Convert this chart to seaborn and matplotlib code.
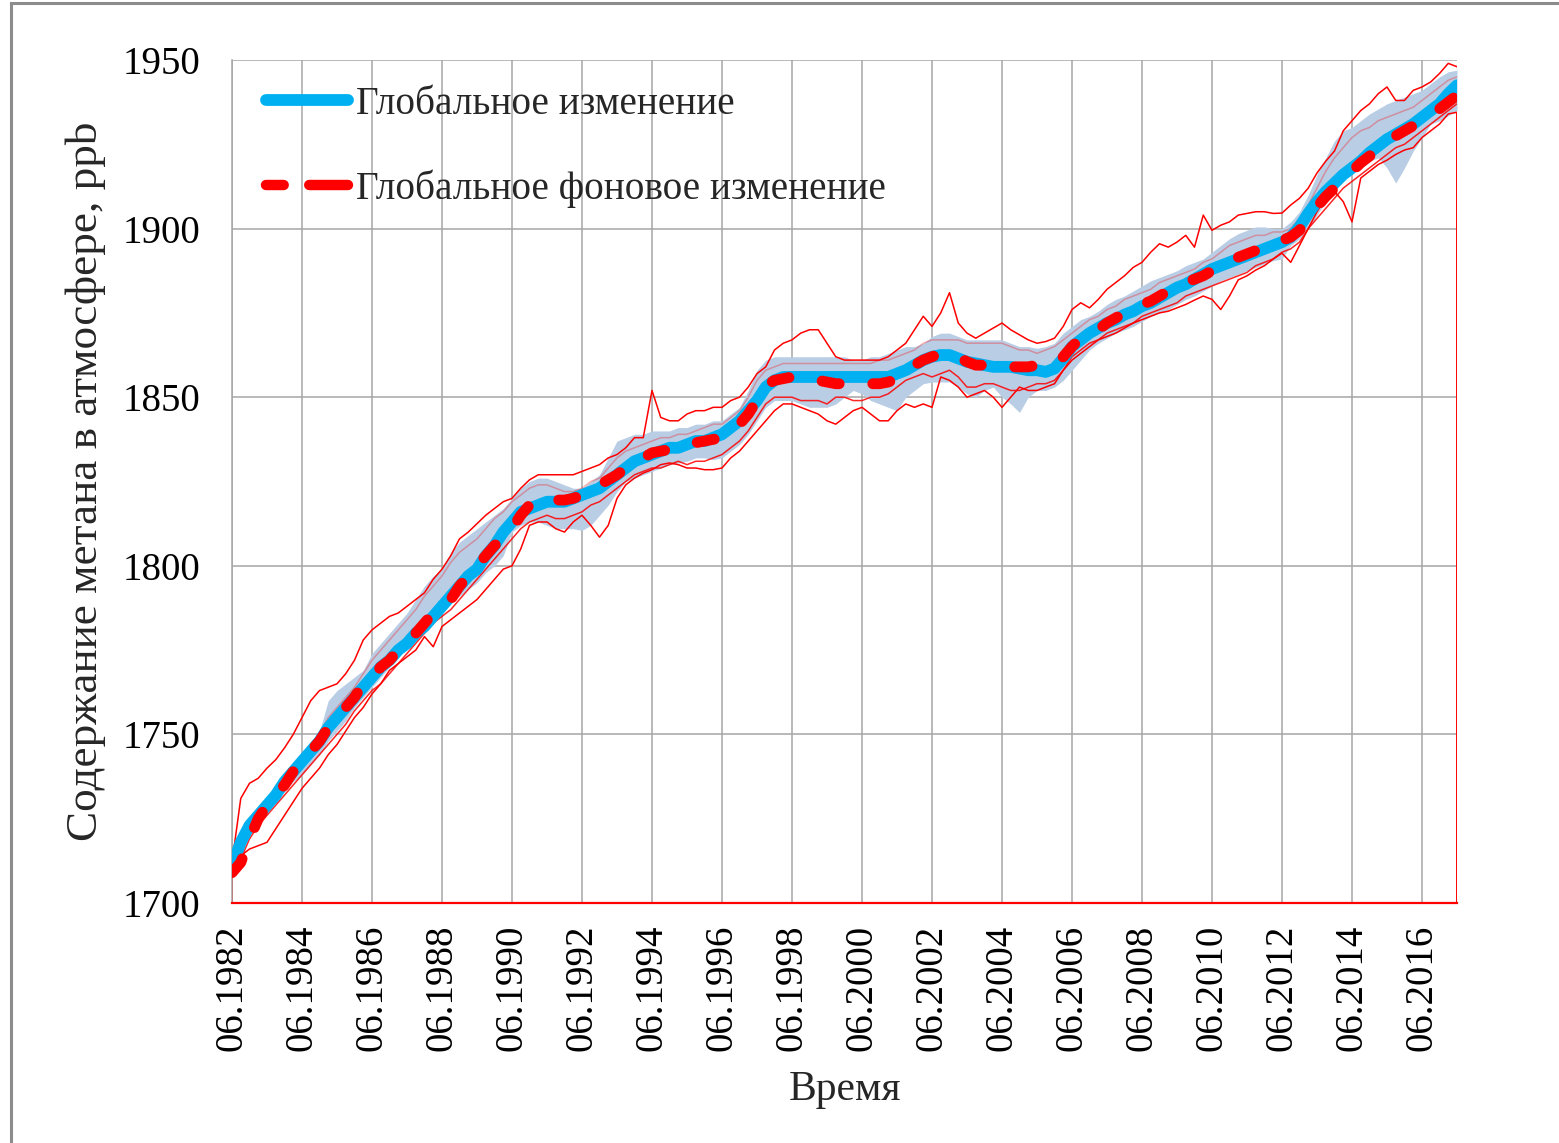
import numpy as np
import matplotlib
matplotlib.use("Agg")
import matplotlib.pyplot as plt
import seaborn as sns
from matplotlib.patches import Rectangle
from matplotlib.lines import Line2D

# Quarterly samples from June 1982 to June 2017 (decimal years)
years = 1982.5 + 0.25 * np.arange(141)

# Global methane change, ppb
glob = [
    1711, 1718,
    1723, 1726, 1729, 1732,
    1736, 1739, 1742, 1745,
    1748, 1752, 1755, 1758,
    1761, 1764, 1767, 1770,
    1772, 1775, 1777, 1780,
    1782, 1785, 1788, 1791,
    1794, 1797, 1799, 1803,
    1806, 1810, 1813, 1816,
    1817, 1818, 1819, 1819,
    1819, 1820, 1821, 1822,
    1823, 1825, 1827, 1829,
    1831, 1832, 1833, 1834,
    1835, 1835, 1836, 1837,
    1837, 1838, 1839, 1841,
    1843, 1846, 1849, 1853,
    1855, 1856, 1856, 1856,
    1856, 1856, 1856, 1856,
    1856, 1856, 1856, 1856,
    1856, 1856, 1857, 1858,
    1859.5, 1861, 1862, 1862.5,
    1862.5, 1861.5, 1860.5, 1860,
    1859.5, 1859, 1859, 1859,
    1858.5, 1858, 1858, 1857.5,
    1858.5, 1861.5, 1865, 1867,
    1869, 1870.5, 1872, 1873,
    1874.5, 1875.5, 1877, 1878,
    1879.5, 1881, 1882.5, 1883.5,
    1885, 1886.5, 1888, 1889,
    1890, 1891, 1892, 1893,
    1894, 1895, 1896, 1897.5,
    1900.5, 1904.5, 1908, 1911,
    1913.5, 1916, 1918, 1920,
    1922.5, 1924.5, 1926.5, 1928,
    1929.5, 1931, 1933, 1935,
    1937, 1940, 1942.5,
]

# Global background change, ppb
background = [
    1709, 1712,
    1719, 1725, 1729, 1732,
    1735, 1739, 1742, 1745,
    1748, 1752, 1755, 1758,
    1761, 1765, 1767, 1770,
    1772, 1775, 1778, 1780,
    1783, 1786, 1788, 1790,
    1794, 1797, 1800, 1803,
    1806, 1808, 1811, 1815,
    1818, 1820, 1820, 1819.5,
    1819.5, 1820, 1821, 1823,
    1824, 1825.5, 1827, 1829,
    1831, 1832, 1833.5, 1834,
    1834.5, 1835, 1836, 1836.5,
    1837, 1837.5, 1838, 1840,
    1842, 1845, 1849, 1853.5,
    1855, 1855.5, 1856, 1856,
    1855.5, 1855, 1854.5, 1854,
    1854, 1854, 1854, 1854,
    1854, 1854.5, 1855.5, 1857.5,
    1859.5, 1861, 1862, 1863,
    1863, 1862, 1860.5, 1859.5,
    1859.5, 1859, 1859, 1859,
    1859, 1859, 1859.5, 1859.5,
    1860, 1862, 1865, 1867.5,
    1869, 1870, 1872, 1873.5,
    1875, 1876, 1877.5, 1878.5,
    1880, 1881.5, 1883, 1884,
    1885, 1886, 1887.5, 1889,
    1890.5, 1891.5, 1892.5, 1893.5,
    1894.5, 1895.5, 1896.5, 1897.5,
    1899.5, 1903, 1906.5, 1909.5,
    1912, 1914.5, 1917, 1919.5,
    1921.5, 1923.5, 1925.5, 1927.5,
    1929, 1930.5, 1932, 1933.5,
    1935.5, 1937.5, 1939.5,
]

# Spread of the station series (upper / lower edge of the shaded band)
band_hi = [
    1712, 1720,
    1724, 1727, 1731, 1734,
    1738, 1741, 1744, 1746,
    1751, 1760, 1763, 1765,
    1767, 1769, 1774, 1777,
    1780, 1783, 1786, 1790,
    1794, 1797, 1799, 1804,
    1807, 1809, 1811, 1813,
    1815, 1817, 1820, 1823,
    1825, 1826, 1826, 1825,
    1824, 1823, 1823, 1825,
    1827, 1832, 1837, 1838,
    1839, 1839, 1840, 1840,
    1840, 1841, 1841, 1842,
    1842, 1843, 1843, 1845,
    1847, 1852, 1858, 1861,
    1862, 1862, 1862, 1862,
    1862, 1862, 1862, 1862,
    1862, 1861, 1861, 1862,
    1862, 1863, 1864, 1865,
    1865, 1866, 1868, 1869,
    1869, 1868, 1867, 1867,
    1867, 1867, 1867, 1866,
    1865, 1865, 1864.5, 1865,
    1866, 1869, 1871, 1873,
    1874, 1875.5, 1877.5, 1879,
    1880, 1881.5, 1883, 1884.5,
    1885.5, 1886.5, 1887.5, 1889,
    1890, 1891, 1893, 1895,
    1897, 1898.5, 1899.5, 1900.5,
    1900.5, 1900, 1900, 1902,
    1905, 1910, 1916, 1921,
    1926, 1929, 1930, 1932,
    1934, 1935.5, 1937, 1938,
    1939, 1940, 1941, 1943,
    1945, 1946.5, 1947,
]

band_lo = [
    1710, 1716,
    1721, 1725, 1728, 1731,
    1733, 1736, 1738, 1741,
    1744, 1748, 1751, 1754,
    1758, 1761, 1764, 1767,
    1770, 1773, 1776, 1778,
    1781, 1784, 1786, 1789,
    1791, 1793, 1795, 1798,
    1800, 1803, 1810, 1812,
    1813, 1813, 1812, 1811,
    1811, 1811, 1810.5, 1812,
    1815, 1818, 1822, 1825,
    1826, 1827, 1828, 1829,
    1830, 1830.5, 1831, 1832,
    1832, 1831.5, 1832, 1834,
    1836, 1839, 1843, 1847,
    1849, 1849, 1849, 1848,
    1847, 1847, 1847, 1848,
    1850, 1852, 1851, 1849,
    1848, 1847, 1846, 1850,
    1852, 1854, 1854.5, 1854.5,
    1854.5, 1853, 1851, 1850,
    1852, 1853, 1850, 1848,
    1845.5, 1850, 1852, 1852,
    1853, 1855, 1858, 1861,
    1864, 1866, 1867.5, 1869,
    1870, 1871, 1872.5, 1874,
    1875, 1876, 1877.5, 1879,
    1880, 1881.5, 1883, 1884.5,
    1885.5, 1886.5, 1887.5, 1888.5,
    1889.5, 1890.5, 1891, 1895,
    1897, 1900, 1904, 1908,
    1911, 1914, 1917, 1919,
    1920, 1921, 1918, 1913.5,
    1918, 1923, 1927, 1931,
    1932, 1933.5, 1935,
]

# Individual station records, ppb
station_high = [
    1712, 1731,
    1735.5, 1737, 1740, 1742.5,
    1746, 1750, 1755, 1760,
    1763, 1764, 1765, 1768,
    1772, 1778, 1781, 1783,
    1785, 1786, 1788, 1790,
    1792, 1796, 1799, 1803,
    1808, 1810, 1812.5, 1815,
    1817, 1819, 1820, 1823,
    1825.5, 1827, 1827, 1827,
    1827, 1827, 1828, 1829,
    1830, 1832, 1833, 1835,
    1838, 1838, 1852, 1844,
    1843, 1843, 1845, 1846,
    1846, 1847, 1847, 1849,
    1850, 1853, 1857, 1859,
    1864, 1866, 1867, 1869,
    1870, 1870, 1866, 1862,
    1861, 1861, 1861, 1861,
    1861, 1862, 1864, 1866,
    1870, 1874, 1871, 1875,
    1881, 1872, 1869, 1867.5,
    1869, 1870.5, 1872, 1870,
    1868.5, 1867, 1866, 1866.5,
    1867.5, 1871, 1876, 1878,
    1876.5, 1879, 1882, 1884,
    1886, 1888.5, 1890, 1893,
    1895.5, 1894.5, 1896, 1898,
    1894.5, 1904, 1899.5, 1901,
    1902, 1904, 1904.5, 1905,
    1905, 1904.5, 1904.6, 1907,
    1909, 1912, 1916.5, 1920,
    1923, 1929, 1932, 1935,
    1937, 1940, 1942, 1938,
    1938, 1941, 1942, 1943.5,
    1946, 1949, 1948,
]

station_low = [
    1710, 1714,
    1716, 1717, 1718, 1722,
    1726, 1730, 1734, 1737,
    1740, 1744, 1747, 1751,
    1755, 1758, 1762, 1765,
    1769, 1771, 1773, 1775,
    1779, 1776, 1782, 1784,
    1786, 1788, 1790, 1793,
    1796, 1799, 1800, 1805,
    1812, 1813, 1813, 1811,
    1810, 1813, 1815, 1812,
    1808.5, 1812, 1820, 1824,
    1826, 1827.5, 1828.5, 1830,
    1830.5, 1830, 1829, 1829,
    1828.5, 1828.5, 1829, 1832,
    1834, 1837, 1840, 1843,
    1846, 1848, 1848, 1847,
    1846, 1845, 1843, 1842,
    1844, 1846, 1847, 1845,
    1843, 1843, 1846, 1848,
    1847, 1848, 1847, 1856,
    1855, 1853, 1850, 1851,
    1852, 1850, 1847, 1850,
    1853, 1852, 1852, 1853,
    1854, 1858, 1861, 1863,
    1865, 1867, 1868, 1869,
    1870.5, 1872, 1873, 1874,
    1875, 1875.5, 1876.5, 1877.5,
    1878.8, 1880, 1879, 1876,
    1880, 1884.8, 1886, 1887.7,
    1889, 1891, 1892.7, 1890,
    1895, 1900, 1905, 1909,
    1911, 1908, 1902, 1915,
    1917, 1919, 1920.3, 1922,
    1923.3, 1924, 1927, 1929,
    1931, 1934, 1934.5,
]

station_mid = [
    1710, 1713,
    1719, 1723, 1726, 1729,
    1732, 1735, 1738, 1741,
    1744, 1747, 1750, 1753,
    1757, 1760, 1763, 1765,
    1768, 1771, 1774, 1777,
    1780, 1783, 1785, 1787,
    1790, 1793, 1796, 1799,
    1802, 1805, 1808, 1811,
    1813, 1814, 1815, 1814,
    1814, 1815, 1816, 1818,
    1819, 1821, 1823, 1825,
    1827, 1828, 1829, 1829,
    1830, 1831, 1830, 1831,
    1831, 1832, 1833, 1835,
    1837, 1840, 1844, 1848,
    1850, 1850, 1850, 1849,
    1849, 1849, 1848, 1850,
    1850, 1849, 1849, 1850,
    1850, 1851, 1853, 1855,
    1856, 1857, 1856, 1857,
    1858, 1856, 1853, 1853,
    1854, 1854, 1853, 1852,
    1852, 1853, 1854, 1854,
    1855, 1858, 1862, 1864,
    1866, 1867, 1869, 1870,
    1871, 1872, 1874, 1875,
    1876, 1877, 1878, 1880,
    1881, 1882, 1883, 1884,
    1885, 1886, 1887, 1889,
    1890, 1891, 1893, 1894,
    1896, 1900, 1903, 1906,
    1909, 1912, 1914, 1916,
    1918, 1920, 1922, 1924,
    1925, 1927, 1929, 1931,
    1933, 1935, 1937,
]

station_upper_mid = [
    1711, 1719,
    1724, 1727, 1730, 1733,
    1737, 1740, 1743, 1746,
    1750, 1755, 1758, 1761,
    1764, 1768, 1772, 1775,
    1778, 1781, 1784, 1787,
    1791, 1794, 1797, 1801,
    1804, 1806, 1808, 1811,
    1814, 1816, 1819, 1821,
    1823, 1824, 1824, 1823,
    1822, 1822, 1823, 1825,
    1826, 1829, 1832, 1834,
    1835, 1836, 1837, 1838,
    1838, 1839, 1839, 1840,
    1841, 1842, 1842, 1844,
    1846, 1850, 1855, 1858,
    1859, 1860, 1860, 1860,
    1860, 1860, 1860, 1860,
    1860, 1860, 1860, 1860,
    1861, 1861, 1862, 1863,
    1864, 1866, 1867, 1867,
    1867, 1867, 1866, 1866,
    1866, 1866, 1866, 1865,
    1864, 1864, 1863, 1864,
    1865, 1867, 1869, 1871,
    1873, 1874, 1876, 1877,
    1879, 1880, 1881, 1882,
    1884, 1885, 1886, 1887,
    1888, 1890, 1891, 1893,
    1895, 1896, 1897, 1898,
    1898, 1899, 1899, 1900,
    1903, 1907, 1912, 1917,
    1921, 1924, 1927, 1929,
    1930, 1932, 1933, 1934,
    1935, 1936, 1938, 1940,
    1942, 1944, 1945,
]

tick_years = [1982.5, 1984.5, 1986.5, 1988.5, 1990.5, 1992.5, 1994.5, 1996.5,
              1998.5, 2000.5, 2002.5, 2004.5, 2006.5, 2008.5, 2010.5, 2012.5,
              2014.5, 2016.5]
tick_labels = ["06.1982", "06.1984", "06.1986", "06.1988", "06.1990", "06.1992",
               "06.1994", "06.1996", "06.1998", "06.2000", "06.2002", "06.2004",
               "06.2006", "06.2008", "06.2010", "06.2012", "06.2014", "06.2016"]
y_ticks = [1700, 1750, 1800, 1850, 1900, 1950]

label_global = "Глобальное изменение"
label_background = "Глобальное фоновое изменение"

BLUE = "#00B0F0"
RED = "#FF0000"
BAND = "#B9CDE5"
GRID = "#A6A6A6"

sns.set_theme(style="white")
plt.rcParams["font.family"] = ["Liberation Serif", "DejaVu Serif"]

W, H = 1559, 1143
fig = plt.figure(figsize=(W / 100, H / 100), dpi=100)
fig.patch.set_facecolor("white")
ax = fig.add_axes([232 / W, 1 - 903 / H, 1225 / W, 843 / H])

# shaded spread
ax.fill_between(years, band_lo, band_hi, color=BAND, lw=0, zorder=1)

# station records
for series, alpha in ((station_high, 1.0), (station_low, 1.0),
                      (station_mid, 0.85), (station_upper_mid, 0.3)):
    sns.lineplot(x=years, y=series, ax=ax, color=RED, lw=1.1, alpha=alpha,
                 zorder=2, legend=False)

# missing-data drops of the lowest record at the series ends
ax.vlines([years[0], years[-1]], 1700, [station_low[0], station_low[-1]],
          color=RED, lw=1.4, zorder=2)

sns.lineplot(x=years, y=glob, ax=ax, color=BLUE, lw=8.5,
             solid_capstyle="round", zorder=3, legend=False)
sns.lineplot(x=years, y=background, ax=ax, color=RED, lw=7.8,
             linestyle=(0, (1.6, 3.1)), dash_capstyle="round", zorder=4,
             legend=False)

ax.set_xlim(1982.5, 2017.5)
ax.set_ylim(1700, 1950)
ax.set_xticks(tick_years)
ax.set_xticklabels(tick_labels)
ax.set_yticks(y_ticks)
ax.grid(True, color=GRID, lw=1.1)
ax.set_axisbelow(True)

ax.tick_params(axis="both", direction="out", length=8.5, width=1.1,
               color=GRID, labelcolor="black")
ax.tick_params(axis="y", labelsize=28, pad=14)
ax.tick_params(axis="x", labelsize=28, labelrotation=90, pad=7)

for side in ("top", "right"):
    ax.spines[side].set_visible(False)
ax.spines["left"].set_color(GRID)
ax.spines["left"].set_linewidth(1.1)
ax.spines["bottom"].set_color(RED)
ax.spines["bottom"].set_linewidth(1.6)

ax.set_ylabel("Содержание метана в атмосфере, ppb", fontsize=32.5, labelpad=12)
ax.set_xlabel("Время", fontsize=30, labelpad=14)

handles = [
    Line2D([], [], color=BLUE, lw=8.5, solid_capstyle="round"),
    Line2D([], [], color=RED, lw=7.5, linestyle=(0, (1.7, 2.45, 4.5, 2.0)),
           dash_capstyle="round"),
]
ax.legend(handles, [label_global, label_background], loc="upper left",
          bbox_to_anchor=(0.028, 0.969), frameon=False, fontsize=28.3,
          handlelength=2.08, handletextpad=0.2, labelspacing=1.17,
          borderpad=0, borderaxespad=0)

# outer frame of the chart area
fig.patches.append(Rectangle((10.5 / W, -0.5), 2.0, 1.5 - 2.5 / H,
                             transform=fig.transFigure, fill=False,
                             ec="#8C8C8C", lw=2.2))

fig.savefig("out.png", dpi=100)
